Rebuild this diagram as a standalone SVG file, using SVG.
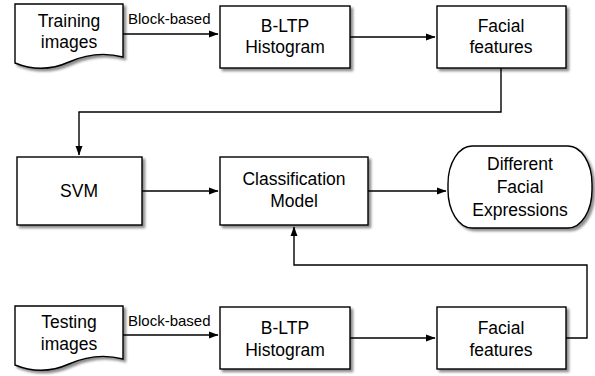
<svg xmlns="http://www.w3.org/2000/svg" width="595" height="376" viewBox="0 0 595 376">
<defs>
<filter id="sh" x="-10%" y="-10%" width="130%" height="140%">
<feDropShadow dx="2.5" dy="2.5" stdDeviation="1.2" flood-color="#000" flood-opacity="0.45"/>
</filter>
<marker id="ah" markerWidth="10" markerHeight="8" refX="9" refY="4" orient="auto" markerUnits="userSpaceOnUse">
<path d="M0,0.5 L9.5,4 L0,7.5 Z" fill="#000"/>
</marker>
</defs>
<style>
.n{fill:#fff;stroke:#000;stroke-width:1.4;filter:url(#sh)}
.t{font-family:"Liberation Sans",Arial,sans-serif;font-size:17.5px;fill:#000;text-anchor:middle}
.l{font-family:"Liberation Sans",Arial,sans-serif;font-size:15px;fill:#000}
.c{fill:none;stroke:#000;stroke-width:1.4}
</style>
<g id="connectors">
<path class="c" d="M123,34 H218" marker-end="url(#ah)"/>
<path class="c" d="M350,37 H435" marker-end="url(#ah)"/>
<path class="c" d="M501,68 V112 H79 V155" marker-end="url(#ah)"/>
<path class="c" d="M142,191 H218" marker-end="url(#ah)"/>
<path class="c" d="M368,191 H446" marker-end="url(#ah)"/>
<path class="c" d="M123,335 H218" marker-end="url(#ah)"/>
<path class="c" d="M350,338 H435" marker-end="url(#ah)"/>
<path class="c" d="M566,338 H587 V265 H294 V227" marker-end="url(#ah)"/>
<text class="l" x="128" y="24">Block-based</text>
<text class="l" x="128" y="326">Block-based</text>
</g>
<g id="training">
<path class="n" d="M15,4 H123 V57 Q96,50 69,62 Q42,74 15,63 Z"/>
<text class="t" x="69" y="27">Training</text>
<text class="t" x="69" y="48">images</text>
</g>
<g id="bltp1">
<rect class="n" x="220" y="6" width="130" height="62"/>
<text class="t" x="285" y="32">B-LTP</text>
<text class="t" x="285" y="53">Histogram</text>
</g>
<g id="facial1">
<rect class="n" x="437" y="6" width="129" height="62"/>
<text class="t" x="501" y="32">Facial</text>
<text class="t" x="501" y="53">features</text>
</g>
<g id="svm">
<rect class="n" x="17" y="157" width="125" height="68"/>
<text class="t" x="79" y="197">SVM</text>
</g>
<g id="classification">
<rect class="n" x="220" y="157" width="148" height="68"/>
<text class="t" x="294" y="185">Classification</text>
<text class="t" x="294" y="207">Model</text>
</g>
<g id="expressions">
<rect class="n" x="448" y="146" width="144" height="82" rx="24" ry="38"/>
<text class="t" x="520" y="170">Different</text>
<text class="t" x="520" y="193">Facial</text>
<text class="t" x="520" y="216">Expressions</text>
</g>
<g id="testing">
<path class="n" d="M15,306 H123 V359 Q96,352 69,364 Q42,376 15,365 Z"/>
<text class="t" x="69" y="328">Testing</text>
<text class="t" x="69" y="350">images</text>
</g>
<g id="bltp2">
<rect class="n" x="220" y="307" width="130" height="62"/>
<text class="t" x="285" y="334">B-LTP</text>
<text class="t" x="285" y="356">Histogram</text>
</g>
<g id="facial2">
<rect class="n" x="437" y="307" width="129" height="62"/>
<text class="t" x="501" y="334">Facial</text>
<text class="t" x="501" y="356">features</text>
</g>
</svg>
